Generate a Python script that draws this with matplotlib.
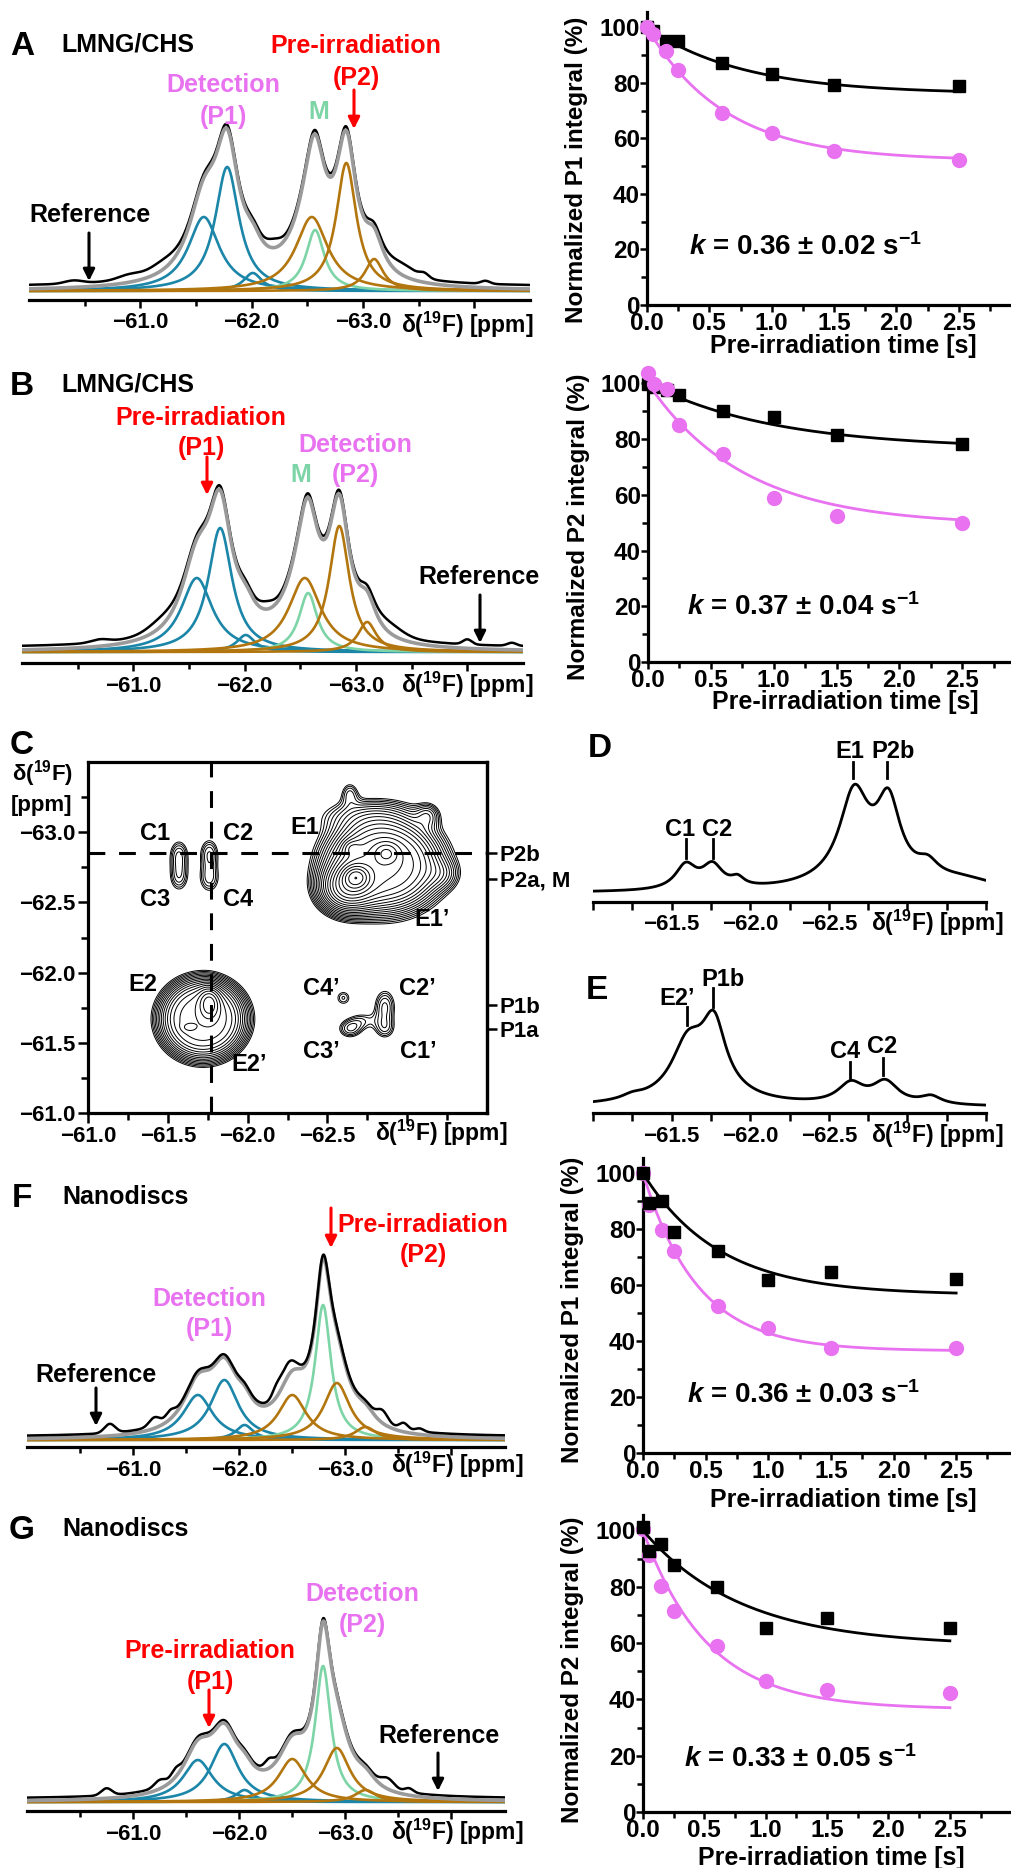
import numpy as np
import matplotlib
matplotlib.use('Agg')
import matplotlib.pyplot as plt
from matplotlib.patches import FancyArrowPatch

plt.rcParams['font.family'] = ['Liberation Sans', 'DejaVu Sans']
plt.rcParams['font.weight'] = 'bold'
plt.rcParams['mathtext.fontset'] = 'custom'
plt.rcParams['mathtext.rm'] = 'Liberation Sans:bold'
plt.rcParams['mathtext.bf'] = 'Liberation Sans:bold'
plt.rcParams['mathtext.it'] = 'Liberation Sans:italic:bold'

BLUE = '#1c86a8'
BROWN = '#b3760e'
GREEN = '#7dd4a6'
GREY = '#9a9a9a'
VIOLET = '#e872f0'
RED = '#ff0000'

# ---- 1D spectra A, B, F, G : lorentzian fit components (ppm, height, half width)
comp_colors = [BLUE, BLUE, BLUE, BROWN, GREEN, BROWN, BROWN]
lmng_pos = [-61.57, -61.78, -62.01, -62.54, -62.57, -62.85, -63.10]
lmng_hw = [0.17, 0.13, 0.10, 0.175, 0.10, 0.11, 0.10]
a_amp = [74, 124, 18, 74, 61, 128, 32]
b_amp = [74, 124, 17, 74, 59, 126, 30]
nd_pos = [-61.61, -61.86, -62.05, -62.50, -62.79, -62.92, -63.19]
nd_hw = [0.17, 0.16, 0.10, 0.16, 0.09, 0.15, 0.12]
f_amp = [45, 60, 15, 45, 135, 57, 13]
g_amp = [42, 58, 12, 43, 136, 54, 12]

# extra features of the measured (black) trace: ppm, height, width
a_bumps = [(-60.4, 3, 0.08), (-60.9, 4, 0.1), (-61.2, 6, 0.12), (-62.2, 5, 0.06),
           (-63.35, 8, 0.12), (-63.55, 4, 0.04), (-64.1, 3, 0.04)]
b_bumps = [(-60.7, 3, 0.08), (-61.25, 6, 0.12), (-62.2, 4, 0.06), (-63.3, 7, 0.12),
           (-64.0, 5, 0.04), (-64.4, 3, 0.04)]
f_bumps = [(-60.78, 9, 0.05), (-61.2, 8, 0.05), (-61.35, 6, 0.04), (-62.35, 8, 0.04),
           (-62.45, 10, 0.06), (-63.35, 10, 0.05), (-63.55, 6, 0.04), (-63.7, 3, 0.04)]
g_bumps = [(-60.75, 7, 0.05), (-61.25, 6, 0.05), (-61.4, 6, 0.04), (-62.28, 7, 0.04),
           (-63.4, 8, 0.06), (-63.6, 4, 0.04)]

# ---- build-up kinetics (pre-irradiation time, normalized integral %)
t_irr = [0, 0.05, 0.15, 0.25, 0.6, 1.0, 1.5, 2.5]
a_ref = [100, 98.5, 95.2, 94.9, 87.3, 83.1, 79.2, 78.7]
a_det = [100, 97.6, 91.6, 84.7, 69.0, 62.0, 55.4, 52.2]
b_ref = [99.8, 98.6, 97.7, 95.8, 89.9, 88.0, 81.5, 78.4]
b_det = [103.7, 99.8, 98.0, 85.0, 74.8, 58.9, 52.3, 49.9]
f_ref = [100, 89.3, 90.2, 79.2, 72.4, 61.7, 64.9, 62.4]
f_det = [100, 88.7, 79.8, 72.3, 52.4, 44.6, 37.5, 37.5]
g_ref = [101.2, 92.8, 95.2, 87.7, 80.0, 65.3, 68.9, 65.3]
g_det = [100.6, 91.4, 80.2, 71.5, 59.0, 46.7, 43.5, 42.2]
# exponential fits: plateau, rate
a_fit = [(76, 1.3), (52, 1.6)]
b_fit = [(76.5, 1.0), (49, 1.3)]
f_fit = [(56.5, 1.65), (36.5, 2.3)]
g_fit = [(59, 1.25), (36.5, 1.9)]
k_texts = ['0.36 ± 0.02', '0.37 ± 0.04', '0.36 ± 0.03', '0.33 ± 0.05']

# ---- 2D spectrum C
# flat-topped regions: x ppm, y ppm, amp, rx, ry, edge softness
c_plateaus = [(-62.85, -62.77, 0.45, 0.28, 0.26, 0.25),
              (-61.72, -61.67, 0.35, 0.226, 0.24, 0.20)]
# gaussian peaks: x ppm, y ppm, amp, sx, sy
c_peaks = [
    (-62.62, -62.60, 0.35, 0.10, 0.10), (-62.68, -62.68, 0.40, 0.05, 0.05),
    (-62.87, -62.85, 0.20, 0.05, 0.05), (-62.65, -62.89, 0.08, 0.035, 0.035),
    (-62.75, -63.12, 0.06, 0.20, 0.08), (-62.64, -63.28, 0.05, 0.04, 0.06),
    (-63.13, -63.12, 0.06, 0.05, 0.06), (-63.22, -62.70, 0.05, 0.07, 0.07),
    (-61.76, -61.78, 0.25, 0.04, 0.07), (-61.63, -61.61, 0.06, 0.03, 0.02),
    (-62.86, -61.76, 0.07, 0.05, 0.09), (-62.86, -61.60, 0.05, 0.05, 0.06),
    (-62.60, -61.82, 0.05, 0.04, 0.045), (-62.64, -61.60, 0.065, 0.055, 0.05),
    (-62.72, -61.66, 0.04, 0.06, 0.05),
    (-61.57, -62.84, 0.065, 0.045, 0.08), (-61.57, -62.68, 0.06, 0.045, 0.08),
    (-61.76, -62.85, 0.065, 0.045, 0.08), (-61.76, -62.67, 0.06, 0.05, 0.08),
]
c_right_ticks = [-62.85, -62.67, -61.77, -61.6]
c_right_labels = ['P2b', 'P2a, M', 'P1b', 'P1a']

# ---- 1D slices D and E (ppm, height, half width)
d_pos = [-61.59, -61.76, -61.92, -62.66, -62.88, -62.75, -63.13, -63.35]
d_amp = [24, 23, 8, 80, 70, 18, 14, 9]
d_hw = [0.08, 0.08, 0.05, 0.11, 0.09, 0.30, 0.08, 0.25]
e_pos = [-61.25, -61.60, -61.77, -61.70, -62.64, -62.86, -63.15]
e_amp = [4, 45, 62, 20, 20, 22, 8]
e_hw = [0.08, 0.12, 0.09, 0.25, 0.10, 0.10, 0.08]

W, H = 1011, 1868
fig = plt.figure(figsize=(W / 100, H / 100), dpi=100)


def px_axes(x0, y0, x1, y1):
    return fig.add_axes([x0 / W, 1 - y1 / H, (x1 - x0) / W, (y1 - y0) / H])


def ftext(x, y, s, size=18, color='k', ha='center', **kw):
    # y is the visual centre of the capitals
    yb = y + 0.497 * size
    fig.text(x / W, 1 - yb / H, s, fontsize=size, color=color, fontweight='bold',
             ha=ha, va='baseline', **kw)


def fline(x, y0, y1, lw=2.0):
    fig.add_artist(plt.Line2D([x / W, x / W], [1 - y0 / H, 1 - y1 / H],
                              transform=fig.transFigure, color='k', lw=lw))


def farrow(x, y0, y1, color='k'):
    fig.add_artist(FancyArrowPatch((x / W, 1 - y0 / H), (x / W, 1 - y1 / H),
                                   transform=fig.transFigure, arrowstyle='-|>',
                                   mutation_scale=17, color=color, lw=2.2,
                                   shrinkA=0, shrinkB=0))


def lorentz(x, p, a, w):
    return a / (1 + ((x - p) / w) ** 2)


def gauss(x, p, a, s):
    return a * np.exp(-0.5 * ((x - p) / s) ** 2)


def delta_label(x, y):
    ftext(x, y, r'δ($^{19}$F) [ppm]', size=16.5)


def spectrum(box, base_y, pos, hw, amp, bumps, offset, black_top):
    x0, y0, x1, y1 = box
    ax = px_axes(x0, y0, x1, y1)
    ax.set_xlim(-60.0, -64.5)
    ax.set_ylim(-(y1 - base_y), base_y - y0)
    xs = np.linspace(-60.0, -64.5, 1500)
    curves = [lorentz(xs, p, a, w) for p, a, w in zip(pos, amp, hw)]
    fit = np.sum(curves, axis=0)
    for i in [0, 1, 2, 4, 3, 5, 6]:
        ax.plot(xs, curves[i], color=comp_colors[i], lw=1.9, zorder=2)
    meas = fit + offset
    for p, a, s in bumps:
        meas = meas + gauss(xs, p, a, s)
    ax.plot(xs, meas, color='k', lw=1.8, zorder=4 if black_top else 3)
    ax.plot(xs, fit, color=GREY, lw=2.6, zorder=3 if black_top else 4)
    for s in ['top', 'left', 'right']:
        ax.spines[s].set_visible(False)
    ax.spines['bottom'].set_linewidth(2.3)
    ax.set_yticks([])
    ax.set_xticks([-61, -62, -63, -64], ['−61.0', '−62.0', '−63.0', ''])
    ax.set_xticks([-60.5, -61.5, -62.5, -63.5], minor=True)
    ax.tick_params(axis='x', which='both', width=1.8, labelsize=16, pad=3)
    ax.tick_params(axis='x', which='major', length=6)
    ax.tick_params(axis='x', which='minor', length=4)
    ax.patch.set_visible(False)
    return ax


def kinetics(box, xmax, ref, det, fits, det_top, ylab, ylab_y, ktxt, kxy, xlab_xy):
    ax = px_axes(*box)
    ax.set_xlim(0, xmax)
    ax.set_ylim(0, 105.5)
    tt = np.linspace(0, 2.5, 300)
    zr, zd = (3, 4) if det_top else (4, 3)
    (pr, kr), (pd, kd) = fits
    ax.plot(tt, pr + (100 - pr) * np.exp(-kr * tt), color='k', lw=2.0, zorder=zr)
    ax.plot(t_irr, ref, 's', color='k', ms=8.5, zorder=zr, clip_on=False)
    ax.plot(tt, pd + (100 - pd) * np.exp(-kd * tt), color=VIOLET, lw=2.0, zorder=zd)
    ax.plot(t_irr, det, 'o', color=VIOLET, ms=10, zorder=zd, clip_on=False)
    for s in ['top', 'right']:
        ax.spines[s].set_visible(False)
    for s in ['left', 'bottom']:
        ax.spines[s].set_linewidth(2.3)
    ax.set_xticks([0, 0.5, 1.0, 1.5, 2.0, 2.5], ['0.0', '0.5', '1.0', '1.5', '2.0', '2.5'])
    ax.set_xticks(np.arange(0.25, xmax, 0.5), minor=True)
    ax.set_yticks([0, 20, 40, 60, 80, 100])
    ax.set_yticks([10, 30, 50, 70, 90], minor=True)
    ax.tick_params(which='both', width=1.8, labelsize=17.5, pad=0)
    ax.tick_params(which='major', length=5)
    ax.tick_params(which='minor', length=4)
    ax.patch.set_visible(False)
    fig.text(ylab[0] / W, 1 - ylab_y / H, ylab[1], rotation=90, fontsize=17.5,
             fontweight='bold', ha='center', va='center')
    ftext(kxy[0], kxy[1], r'$k$ = ' + ktxt + r' s$^{-1}$', size=20)
    ftext(xlab_xy[0], xlab_xy[1], 'Pre-irradiation time [s]', size=18)
    return ax


# ================= panel A =================
spectrum((29, 20, 530, 300), 291, lmng_pos, lmng_hw, a_amp, a_bumps, 4, False)
ftext(22, 43, 'A', size=24)
ftext(61, 43, 'LMNG/CHS', ha='left')
ftext(223, 83, 'Detection', color=VIOLET)
ftext(223, 115, '(P1)', color=VIOLET)
ftext(319, 110, 'M', color=GREEN)
ftext(356, 44, 'Pre-irradiation', color=RED)
ftext(356, 76, '(P2)', color=RED)
farrow(354, 90, 129, RED)
ftext(90, 213, 'Reference')
farrow(89, 233, 281)
delta_label(467, 325)

kinetics((647, 12, 1010, 305), 2.91, a_ref, a_det, a_fit, True,
         (577, 'Normalized P1 integral (%)'), 170, k_texts[0], (805, 245), (843, 344))

# ================= panel B =================
spectrum((22, 380, 523, 663), 652, lmng_pos, lmng_hw, b_amp, b_bumps, 4, False)
ftext(22, 383, 'B', size=24)
ftext(61, 383, 'LMNG/CHS', ha='left')
ftext(201, 416, 'Pre-irradiation', color=RED)
ftext(201, 446, '(P1)', color=RED)
farrow(207, 457, 495, RED)
ftext(301, 473, 'M', color=GREEN)
ftext(355, 443, 'Detection', color=VIOLET)
ftext(355, 473, '(P2)', color=VIOLET)
ftext(479, 575, 'Reference')
farrow(480, 595, 643)
delta_label(467, 685)

kinetics((648, 368, 1010, 662), 2.88, b_ref, b_det, b_fit, True,
         (578, 'Normalized P2 integral (%)'), 527, k_texts[1], (803, 605), (845, 700))

# ================= panel C =================
axc = px_axes(88, 762, 487, 1113)
gx = np.linspace(-61.0, -63.5, 600)
X, Y = np.meshgrid(gx, gx)
Z = np.zeros_like(X)
for px_, py_, a, rx, ry, e in c_plateaus:
    r = np.sqrt(((X - px_) / rx) ** 2 + ((Y - py_) / ry) ** 2)
    Z += a / (1 + np.exp((r - 1) / e))
for px_, py_, a, sx, sy in c_peaks:
    Z += a * np.exp(-0.5 * (((X - px_) / sx) ** 2 + ((Y - py_) / sy) ** 2))
levels = 0.035 * 1.18 ** np.arange(22)
axc.contour(X, Y, Z, levels=levels, colors='k', linewidths=0.7)
axc.set_xlim(-61.0, -63.5)
axc.set_ylim(-61.0, -63.5)
axc.axvline(-61.77, color='k', lw=2.2, ls=(0, (5.5, 4.5)))
axc.axhline(-62.85, color='k', lw=2.2, ls=(0, (5.5, 4.5)))
for s in axc.spines.values():
    s.set_linewidth(2.3)
axc.set_xticks([-61.0, -61.5, -62.0, -62.5, -63.0], ['−61.0', '−61.5', '−62.0', '−62.5', ''])
axc.set_xticks([-61.25, -61.75, -62.25, -62.75, -63.25], minor=True)
axc.set_yticks([-63.0, -62.5, -62.0, -61.5, -61.0], ['−63.0', '−62.5', '−62.0', '−61.5', '−61.0'])
axc.set_yticks([-63.25, -62.75, -62.25, -61.75, -61.25], minor=True)
axc.tick_params(which='both', width=1.8, labelsize=16, pad=2)
axc.tick_params(which='major', length=7)
axc.tick_params(which='minor', length=5)
sec = axc.secondary_yaxis('right')
sec.set_yticks(c_right_ticks, c_right_labels)
sec.tick_params(length=7, width=1.8, labelsize=16, pad=2)
sec.spines['right'].set_linewidth(2.3)
ftext(22, 742, 'C', size=24)
ftext(42, 773, r'δ($^{19}$F)', size=16)
ftext(42, 803, '[ppm]', size=16)
delta_label(441, 1133)
for lab, x, y in [('C1', 155, 832), ('C2', 238, 832), ('C3', 155, 898), ('C4', 238, 898),
                  ('E1', 305, 826), ('E1’', 432, 918), ('E2', 143, 983), ('E2’', 249, 1063),
                  ('C4’', 321, 987), ('C2’', 417, 987), ('C3’', 321, 1050), ('C1’', 418, 1050)]:
    ftext(x, y, lab, size=17)


# ================= panels D, E =================
def slice_panel(box, base_y, pos, amp, hw):
    x0, y0, x1, y1 = box
    ax = px_axes(x0, y0, x1, y1)
    ax.set_xlim(-61.0, -63.5)
    ax.set_ylim(-(y1 - base_y), base_y - y0)
    xs = np.linspace(-61.0, -63.5, 800)
    yy = np.sum([lorentz(xs, p, a, w) for p, a, w in zip(pos, amp, hw)], axis=0)
    ax.plot(xs, yy, color='k', lw=2.0)
    for s in ['top', 'left', 'right']:
        ax.spines[s].set_visible(False)
    ax.spines['bottom'].set_linewidth(2.3)
    ax.set_yticks([])
    tk = [-61.0, -61.25, -61.5, -61.75, -62.0, -62.25, -62.5, -62.75, -63.0, -63.25, -63.5]
    labs = ['' if v not in (-61.5, -62.0, -62.5) else '−%.1f' % abs(v) for v in tk]
    ax.set_xticks(tk, labs)
    ax.tick_params(axis='x', length=6, width=1.8, labelsize=16, pad=3)
    ax.patch.set_visible(False)
    return ax


slice_panel((593, 740, 986, 902), 893, d_pos, d_amp, d_hw)
ftext(600, 745, 'D', size=24)
ftext(850, 750, 'E1', size=17)
ftext(893, 750, 'P2b', size=17)
fline(853, 762, 778)
fline(887, 762, 778)
ftext(680, 828, 'C1', size=17)
ftext(717, 828, 'C2', size=17)
fline(686, 839, 858)
fline(713, 839, 858)
delta_label(937, 923)

slice_panel((593, 960, 986, 1113), 1107, e_pos, e_amp, e_hw)
ftext(597, 987, 'E', size=24)
ftext(677, 997, 'E2’', size=17)
fline(687, 1007, 1025)
ftext(723, 978, 'P1b', size=17)
fline(713, 988, 1007)
ftext(845, 1050, 'C4', size=17)
fline(850, 1062, 1078)
ftext(882, 1045, 'C2', size=17)
fline(883, 1058, 1075)
delta_label(937, 1135)

# ================= panel F =================
spectrum((27, 1180, 504.5, 1447), 1440, nd_pos, nd_hw, f_amp, f_bumps, 3, True)
ftext(22, 1195, 'F', size=24)
ftext(62, 1195, 'Nanodiscs', ha='left')
farrow(331, 1208, 1248, RED)
ftext(423, 1223, 'Pre-irradiation', color=RED)
ftext(423, 1253, '(P2)', color=RED)
ftext(209, 1297, 'Detection', color=VIOLET)
ftext(209, 1327, '(P1)', color=VIOLET)
ftext(96, 1373, 'Reference')
farrow(96, 1388, 1426)
delta_label(457, 1465)

kinetics((643, 1158, 1010, 1453), 2.93, f_ref, f_det, f_fit, False,
         (573, 'Normalized P1 integral (%)'), 1310, k_texts[2], (803, 1393), (843, 1498))

# ================= panel G =================
spectrum((27, 1540, 504.5, 1811), 1802, nd_pos, nd_hw, g_amp, g_bumps, 3, False)
ftext(22, 1527, 'G', size=24)
ftext(62, 1527, 'Nanodiscs', ha='left')
ftext(362, 1592, 'Detection', color=VIOLET)
ftext(362, 1623, '(P2)', color=VIOLET)
ftext(210, 1649, 'Pre-irradiation', color=RED)
ftext(210, 1680, '(P1)', color=RED)
farrow(209, 1690, 1728, RED)
ftext(439, 1734, 'Reference')
farrow(438, 1753, 1791)
delta_label(457, 1832)

kinetics((643, 1515, 1010, 1812), 2.99, g_ref, g_det, g_fit, False,
         (573, 'Normalized P2 integral (%)'), 1670, k_texts[3], (800, 1757), (831, 1856))

fig.savefig('out.png', dpi=100)
